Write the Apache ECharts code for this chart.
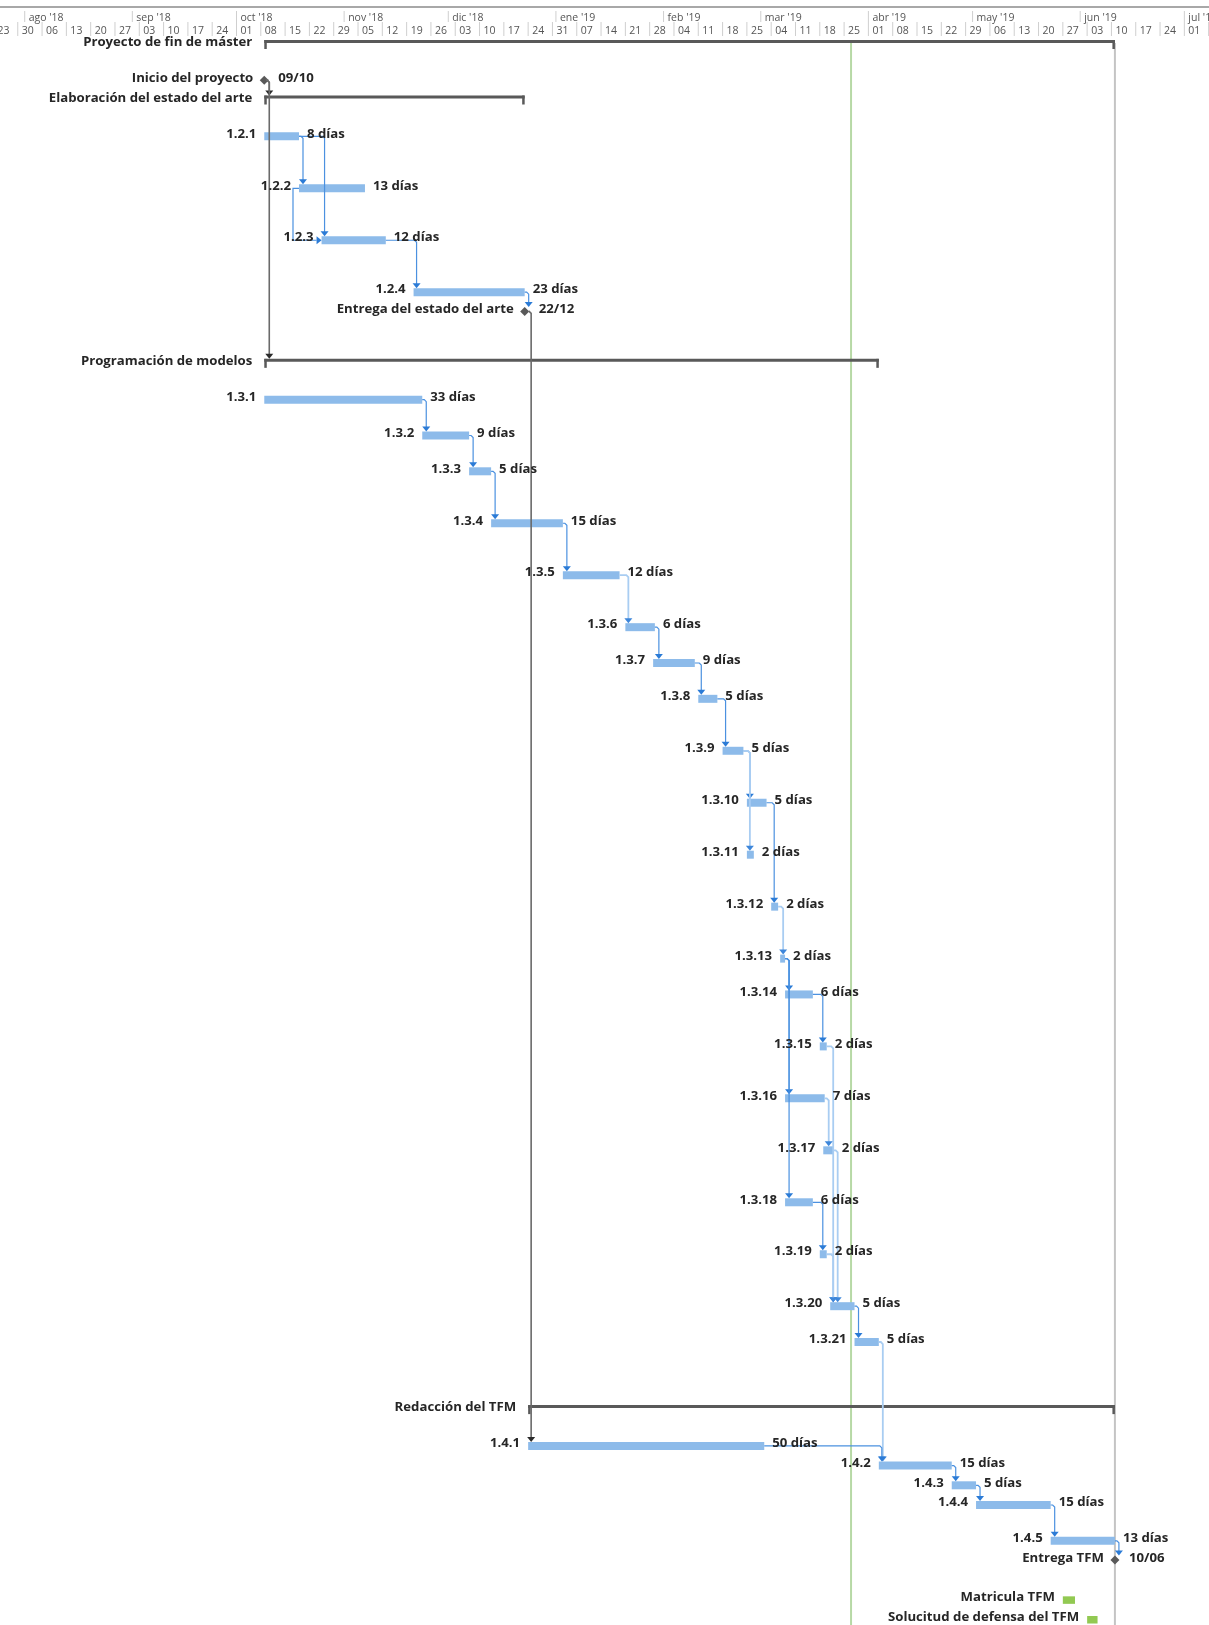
<!DOCTYPE html>
<html>
<head>
<meta charset="utf-8">
<title>Proyecto de fin de máster - Gantt</title>
<script src="https://cdn.jsdelivr.net/npm/echarts@6/dist/echarts.min.js"></script>
<style>
  html, body { margin: 0; padding: 0; background: #fff; }
  #gantt { width: 1209px; height: 1625px; }
</style>
</head>
<body>
<div id="gantt"></div>
<script>
// filas del diagrama (nombre, tipo, fechas, texto de la derecha, lineas de la fila)
const taskNames = [
  'Proyecto de fin de máster', 'Inicio del proyecto', 'Elaboración del estado del arte',
  '1.2.1', '1.2.2', '1.2.3', '1.2.4', 'Entrega del estado del arte',
  'Programación de modelos',
  '1.3.1', '1.3.2', '1.3.3', '1.3.4', '1.3.5', '1.3.6', '1.3.7', '1.3.8', '1.3.9', '1.3.10',
  '1.3.11', '1.3.12', '1.3.13', '1.3.14', '1.3.15', '1.3.16', '1.3.17', '1.3.18', '1.3.19',
  '1.3.20', '1.3.21',
  'Redacción del TFM', '1.4.1', '1.4.2', '1.4.3', '1.4.4', '1.4.5', 'Entrega TFM',
  '', 'Matricula TFM', 'Solucitud de defensa del TFM'
]
const taskKinds = [
  'summary', 'milestone', 'summary',
  'task', 'task', 'task', 'task', 'milestone',
  'summary',
  'task', 'task', 'task', 'task', 'task', 'task', 'task', 'task', 'task', 'task',
  'task', 'task', 'task', 'task', 'task', 'task', 'task', 'task', 'task',
  'task', 'task',
  'summary', 'task', 'task', 'task', 'task', 'task', 'milestone',
  'blank', 'extra', 'extra'
]
const taskStarts = [
  '2018-10-09', '2018-10-09', '2018-10-09',
  '2018-10-09', '2018-10-19', '2018-10-25T12', '2018-11-21', '2018-12-23',
  '2018-10-09',
  '2018-10-09', '2018-11-23T12', '2018-12-07', '2018-12-13T08', '2019-01-03', '2019-01-21',
  '2019-01-29', '2019-02-11', '2019-02-18', '2019-02-25',
  '2019-02-25', '2019-03-04', '2019-03-06T14', '2019-03-08', '2019-03-18', '2019-03-08',
  '2019-03-19', '2019-03-08', '2019-03-18',
  '2019-03-21', '2019-03-28',
  '2018-12-24', '2018-12-24', '2019-04-04', '2019-04-25', '2019-05-02', '2019-05-23T12', '2019-06-11',
  '', '2019-05-27', '2019-06-03'
]
const taskEnds = [
  '2019-06-11', '2018-10-09', '2018-12-23',
  '2018-10-19', '2018-11-07', '2018-11-13', '2018-12-23', '2018-12-23',
  '2019-04-04',
  '2018-11-23T12', '2018-12-07', '2018-12-13T08', '2019-01-03', '2019-01-19T08', '2019-01-29T12',
  '2019-02-10', '2019-02-16T12', '2019-02-24', '2019-03-02T16',
  '2019-02-27', '2019-03-06', '2019-03-08', '2019-03-16', '2019-03-20', '2019-03-19T10',
  '2019-03-22', '2019-03-16', '2019-03-20',
  '2019-03-28', '2019-04-04',
  '2019-06-11', '2019-03-02', '2019-04-25', '2019-05-02', '2019-05-23T12', '2019-06-11', '2019-06-11',
  '', '2019-05-30T12', '2019-06-06'
]
const taskNotes = [
  '', '09/10', '',
  '8 días', '13 días', '12 días', '23 días', '22/12',
  '',
  '33 días', '9 días', '5 días', '15 días', '12 días', '6 días', '9 días', '5 días', '5 días', '5 días',
  '2 días', '2 días', '2 días', '6 días', '2 días', '7 días', '2 días', '6 días', '2 días',
  '5 días', '5 días',
  '', '50 días', '15 días', '5 días', '15 días', '13 días', '10/06',
  '', '', ''
]
const rowLines = [
  2, 1, 2, 3, 3, 3, 1, 3, 2,
  2, 2, 3, 3, 3, 2, 2, 3, 3, 3, 3, 3, 2, 3, 3, 3, 3, 3, 3, 2, 4,
  2, 1, 1, 1, 2, 1, 1,
  1, 1, 1
]

// vinculos entre tareas
const linkFrom = [
  'Inicio del proyecto', 'Inicio del proyecto',
  '1.2.1', '1.2.1', '1.2.2', '1.2.3', '1.2.4', 'Entrega del estado del arte',
  '1.3.1', '1.3.2', '1.3.3', '1.3.4', '1.3.5', '1.3.6', '1.3.7', '1.3.8', '1.3.9', '1.3.9',
  '1.3.10', '1.3.12', '1.3.13', '1.3.13', '1.3.13', '1.3.14', '1.3.15', '1.3.16', '1.3.17',
  '1.3.18', '1.3.19', '1.3.20', '1.3.21',
  '1.4.1', '1.4.2', '1.4.3', '1.4.4', '1.4.5'
]
const linkTo = [
  'Elaboración del estado del arte', 'Programación de modelos',
  '1.2.2', '1.2.3', '1.2.3', '1.2.4', 'Entrega del estado del arte', '1.4.1',
  '1.3.2', '1.3.3', '1.3.4', '1.3.5', '1.3.6', '1.3.7', '1.3.8', '1.3.9', '1.3.10', '1.3.11',
  '1.3.12', '1.3.13', '1.3.14', '1.3.16', '1.3.18', '1.3.15', '1.3.20', '1.3.17', '1.3.20',
  '1.3.19', '1.3.20', '1.3.21', '1.4.2',
  '1.4.2', '1.4.3', '1.4.4', '1.4.5', 'Entrega TFM'
]
const linkTypes = [
  'FS', 'FS',
  'FS', 'FS', 'SS', 'FS', 'FS', 'FS',
  'FS', 'FS', 'FS', 'FS', 'FS', 'FS', 'FS', 'FS', 'FS', 'FS',
  'FS', 'FS', 'FS', 'FS', 'FS', 'FS', 'FS', 'FS', 'FS',
  'FS', 'FS', 'FS', 'FS',
  'FS', 'FS', 'FS', 'FS', 'FS'
]
const linkTones = [
  'dark', 'dark',
  'base', 'base', 'base', 'base', 'base', 'dark',
  'base', 'base', 'base', 'base', 'light', 'base', 'base', 'base', 'base', 'light',
  'base', 'light', 'base', 'base', 'base', 'base', 'light', 'light', 'light',
  'base', 'light', 'base', 'light',
  'base', 'base', 'base', 'base', 'base'
]

// escala de tiempo
const firstWeek = '2018-07-23'
const weekLabels = [
  '23', '30', '06', '13', '20', '27', '03', '10', '17', '24',
  '01', '08', '15', '22', '29', '05', '12', '19', '26', '03', '10', '17', '24', '31',
  '07', '14', '21', '28', '04', '11', '18', '25', '04', '11', '18', '25',
  '01', '08', '15', '22', '29', '06', '13', '20', '27', '03', '10', '17', '24', '01', '08'
]
const monthLabels = ["ago '18", "sep '18", "oct '18", "nov '18", "dic '18", "ene '19",
  "feb '19", "mar '19", "abr '19", "may '19", "jun '19", "jul '19"]
const monthStarts = ['2018-08-01', '2018-09-01', '2018-10-01', '2018-11-01', '2018-12-01', '2019-01-01',
  '2019-02-01', '2019-03-01', '2019-04-01', '2019-05-01', '2019-06-01', '2019-07-01']

// lineas verticales (fecha de estado y fecha limite)
const markerDates = ['2019-03-27', '2019-06-11']
const markerColors = ['#b7d9a6', '#c4c4c4']

const DAY = 864e5
function t(s) {
  const parts = s.split('T')
  const d = parts[0].split('-').map(Number)
  return Date.UTC(d[0], d[1] - 1, d[2], parts[1] ? Number(parts[1]) : 0)
}
const rowOf = name => taskNames.indexOf(name)

// posicion vertical de cada fila segun sus lineas
const rowY = []
let acc = 42.5
rowLines.forEach(n => {
  rowY.push(acc)
  acc += 3.54 + 16.14 * n
})

const pxPerDay = 3.472
const xMin = t('2018-10-01') - 236.5 / pxPerDay * DAY
const xMax = xMin + 1209 / pxPerDay * DAY

const barColor = '#8dbbea'
const extraColor = '#92c952'
const summaryColor = '#595959'
const textColor = '#262626'
const labelFont = 'bold 13.2px "Open Sans"'
const headFont = '10.5px "Open Sans"'
const linkStyles = {
  base: { line: '#4b91e0', arrow: '#2b7bd6', width: 1.2 },
  light: { line: '#a9cdf2', arrow: '#3d86da', width: 1.8 },
  dark: { line: '#6a6a6a', arrow: '#2a2a2a', width: 1.6 }
}

const taskData = []
taskNames.forEach((name, i) => {
  if (taskKinds[i] === 'blank') return
  taskData.push([i, t(taskStarts[i]), t(taskEnds[i]), rowY[i]])
})

const linkData = linkFrom.map((name, k) => {
  const a = rowOf(name)
  const b = rowOf(linkTo[k])
  const from = linkTypes[k] === 'SS' ? taskStarts[a] : taskEnds[a]
  return [k, t(from), rowY[a], t(taskStarts[b]), rowY[b]]
})

const weekData = weekLabels.map((w, i) => [t(firstWeek) + i * 7 * DAY, i])
const monthData = monthLabels.map((m, i) => [t(monthStarts[i]), i])
const markerData = markerDates.map((d, i) => [t(d), i])

function topOf(kind, y) {
  if (kind === 'task') return y - 1.5
  return y - 2.5
}

function renderTask(params, api) {
  const i = api.value(0)
  const kind = taskKinds[i]
  const a = api.coord([api.value(1), api.value(3)])
  const b = api.coord([api.value(2), api.value(3)])
  const y = a[1]
  if (kind === 'summary') {
    return {
      type: 'group',
      children: [
        { type: 'rect', shape: { x: a[0], y: y - 2.5, width: b[0] - a[0], height: 3 }, style: { fill: summaryColor } },
        { type: 'rect', shape: { x: a[0], y: y - 2.5, width: 2.5, height: 9 }, style: { fill: summaryColor } },
        { type: 'rect', shape: { x: b[0] - 2.5, y: y - 2.5, width: 2.5, height: 9 }, style: { fill: summaryColor } }
      ]
    }
  }
  if (kind === 'milestone') {
    const cy = y + 2
    return {
      type: 'polygon',
      shape: { points: [[a[0], cy - 4.5], [a[0] + 4.5, cy], [a[0], cy + 4.5], [a[0] - 4.5, cy]] },
      style: { fill: summaryColor }
    }
  }
  if (kind === 'extra') {
    return { type: 'rect', shape: { x: a[0], y: y - 1, width: b[0] - a[0], height: 7.5 }, style: { fill: extraColor } }
  }
  return { type: 'rect', shape: { x: a[0], y: y - 1.5, width: b[0] - a[0], height: 8 }, style: { fill: barColor } }
}

function renderLabel(params, api) {
  const i = api.value(0)
  const kind = taskKinds[i]
  const a = api.coord([api.value(1), api.value(3)])
  const b = api.coord([api.value(2), api.value(3)])
  const gapL = kind === 'summary' ? 12 : kind === 'milestone' ? 11 : 8
  const gapR = kind === 'milestone' ? 14 : 8
  const children = [{
    type: 'text', x: a[0] - gapL, y: a[1],
    style: { text: taskNames[i], fill: textColor, font: labelFont, align: 'right', verticalAlign: 'middle' }
  }]
  if (taskNotes[i]) {
    children.push({
      type: 'text', x: b[0] + gapR, y: a[1],
      style: { text: taskNotes[i], fill: textColor, font: labelFont, align: 'left', verticalAlign: 'middle' }
    })
  }
  return { type: 'group', children }
}

function renderLink(params, api) {
  const k = api.value(0)
  const a = rowOf(linkFrom[k])
  const b = rowOf(linkTo[k])
  const st = linkStyles[linkTones[k]]
  const p = api.coord([api.value(1), api.value(2)])
  const q = api.coord([api.value(3), api.value(4)])
  let pts, arrow
  if (linkTypes[k] === 'SS') {
    const hx = p[0] - 6
    const sy = p[1] + 2.5
    const ty = q[1] + 2.5
    pts = [[p[0], sy], [hx, sy], [hx, ty], [q[0] - 5, ty]]
    arrow = [[q[0] - 5, ty - 4], [q[0] - 5, ty + 4], [q[0], ty]]
  } else {
    const fromMs = taskKinds[a] === 'milestone'
    const sx = fromMs ? p[0] + 4 : p[0]
    const sy = fromMs ? p[1] + 2 : p[1] + 2.5
    const vx = Math.max(p[0] + (fromMs ? 5 : 4), q[0] + 3)
    const top = topOf(taskKinds[b], q[1])
    pts = [[sx, sy], [vx - 2, sy], [vx, sy + 2], [vx, top - 4]]
    arrow = [[vx - 4, top - 5], [vx + 4, top - 5], [vx, top]]
  }
  return {
    type: 'group',
    children: [
      { type: 'polyline', shape: { points: pts }, style: { stroke: st.line, lineWidth: st.width, fill: null } },
      { type: 'polygon', shape: { points: arrow }, style: { fill: st.arrow } }
    ]
  }
}

function renderWeek(params, api) {
  const x = api.coord([api.value(0), 0])[0]
  return {
    type: 'group',
    children: [
      { type: 'line', shape: { x1: x, y1: 22, x2: x, y2: 36 }, style: { stroke: '#cfcfcf', lineWidth: 1 } },
      { type: 'text', x: x + 4, y: 31.5,
        style: { text: weekLabels[api.value(1)], fill: '#555', font: headFont, align: 'left', verticalAlign: 'middle' } }
    ]
  }
}

function renderMonth(params, api) {
  const x = api.coord([api.value(0), 0])[0]
  return {
    type: 'group',
    children: [
      { type: 'line', shape: { x1: x, y1: 11, x2: x, y2: 22 }, style: { stroke: '#cfcfcf', lineWidth: 1 } },
      { type: 'text', x: x + 4, y: 18,
        style: { text: monthLabels[api.value(1)], fill: '#555', font: headFont, align: 'left', verticalAlign: 'middle' } }
    ]
  }
}

function renderMarker(params, api) {
  const x = api.coord([api.value(0), 0])[0]
  return {
    type: 'line',
    shape: { x1: x, y1: 43, x2: x, y2: 1625 },
    style: { stroke: markerColors[api.value(1)], lineWidth: 2 }
  }
}

const myChart = echarts.init(document.getElementById('gantt'))
const option = {
  animation: false,
  backgroundColor: '#fff',
  grid: { left: 0, right: 0, top: 0, bottom: 0 },
  xAxis: {
    type: 'time', min: xMin, max: xMax,
    axisLine: { show: false }, axisTick: { show: false }, axisLabel: { show: false }, splitLine: { show: false }
  },
  yAxis: {
    type: 'value', inverse: true, min: 0, max: 1625,
    axisLine: { show: false }, axisTick: { show: false }, axisLabel: { show: false }, splitLine: { show: false }
  },
  graphic: [
    { type: 'line', shape: { x1: 0, y1: 7, x2: 1209, y2: 7 }, style: { stroke: '#a8a8a8', lineWidth: 2 } }
  ],
  series: [
    { type: 'custom', name: 'marcas', renderItem: renderMarker, data: markerData, encode: { x: 0, y: 1 }, z: 1, silent: true },
    { type: 'custom', name: 'barras', renderItem: renderTask, data: taskData, encode: { x: [1, 2], y: 3 }, z: 2 },
    { type: 'custom', name: 'vinculos', renderItem: renderLink, data: linkData, encode: { x: [1, 3], y: [2, 4] }, z: 3, silent: true },
    { type: 'custom', name: 'textos', renderItem: renderLabel, data: taskData, encode: { x: [1, 2], y: 3 }, z: 4, silent: true },
    { type: 'custom', name: 'semanas', renderItem: renderWeek, data: weekData, encode: { x: 0, y: 1 }, z: 5, silent: true },
    { type: 'custom', name: 'meses', renderItem: renderMonth, data: monthData, encode: { x: 0, y: 1 }, z: 5, silent: true }
  ]
}
myChart.setOption(option)
window.addEventListener('resize', function () {
  myChart.resize()
})
</script>
</body>
</html>
